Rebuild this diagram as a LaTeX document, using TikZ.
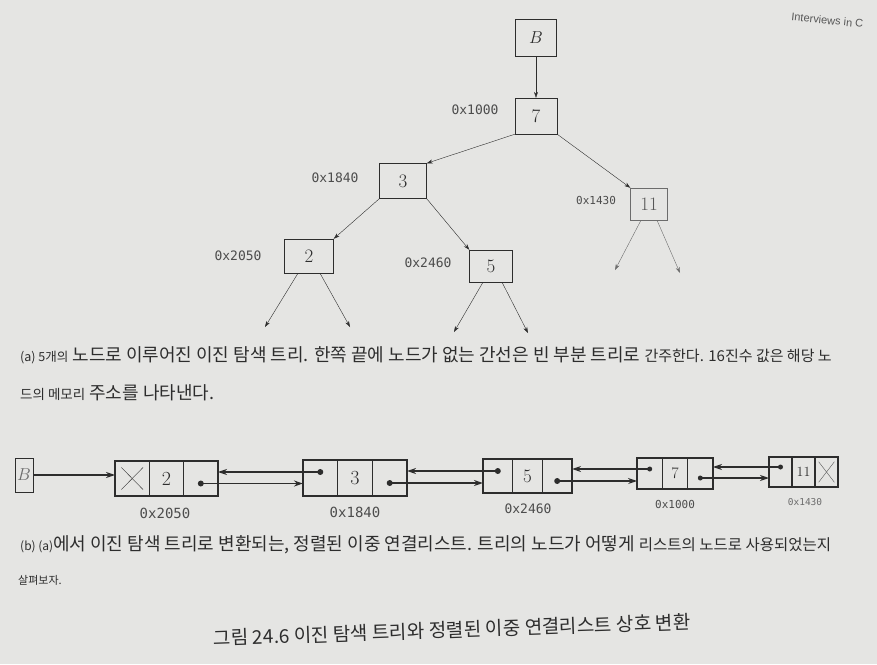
\documentclass[tikz,border=0pt]{standalone}
\usepackage{fontspec}
\setmonofont{DejaVu Sans Mono}
\newfontfamily\krfont{Noto Sans CJK KR}
\newfontfamily\hdfont{Liberation Sans}
\usetikzlibrary{arrows.meta}
\definecolor{paper}{RGB}{229,229,227}
\definecolor{ink}{RGB}{45,45,45}
\tikzset{
    tnode/.style={draw=ink, thin, minimum width=44pt, minimum height=35pt, inner sep=0pt, font=\fontsize{19}{20}\selectfont, text=ink},
    taddr/.style={font=\fontsize{13}{14}\ttfamily, text=ink!85},
    tedge/.style={draw=ink, thin, -{Stealth[length=6pt,width=4pt]}},
    lcell/.style={draw=ink, line width=1.4pt, inner sep=0pt, outer sep=0pt, text=ink},
    ldot/.style={circle, fill=ink, inner sep=0pt, minimum size=6pt},
    ledge/.style={draw=ink, line width=1.6pt, -{Stealth[length=9pt,width=6pt]}},
    captxt/.style={anchor=west, inner sep=0pt, text=ink, font=\krfont\fontsize{18}{19}\selectfont}
}

\begin{document}
\begin{tikzpicture}[x=1pt, y=-1pt]
    \fill[paper] (0,0) rectangle (877,664);
    \clip (0,0) rectangle (877,664);
    \node[anchor=west, rotate=-6, text=ink!80, font=\hdfont\fontsize{11}{12}\selectfont] (head) at (788,16) {Interviews in C};

    % (a) tree
    \node[tnode, minimum width=41pt, minimum height=37pt] (tB) at (536,38) {$B$};
    \node[tnode, minimum width=42pt, minimum height=36pt] (t7) at (536,116) {7};
    \node[tnode, minimum width=47pt] (t3) at (403,181) {3};
    \node[tnode, minimum width=37pt, minimum height=32pt, draw=ink!70, text=ink!80] (t11) at (649,204) {11};
    \node[tnode, minimum width=49pt, minimum height=34pt] (t2) at (309,256) {2};
    \node[tnode, minimum width=43pt, minimum height=32pt] (t5) at (491,266) {5};

    \node[taddr] (a7) at (475,110) {0x1000};
    \node[taddr] (a3) at (335,178) {0x1840};
    \node[taddr, font=\fontsize{11}{12}\ttfamily] (a11) at (596,200) {0x1430};
    \node[taddr] (a2) at (238,256) {0x2050};
    \node[taddr] (a5) at (428,263) {0x2460};

    \draw[tedge] (tB.south) -- (t7.north);
    \draw[tedge] (t7.south west) -- (t3.north east);
    \draw[tedge] (t7.south east) -- (t11.north west);
    \draw[tedge] (t3.south west) -- (t2.north east);
    \draw[tedge] (t3.south east) -- (t5.north west);

    \coordinate (t2l) at (265,327);
    \coordinate (t2r) at (350,327);
    \coordinate (t5l) at (454,332);
    \coordinate (t5r) at (528,333);
    \coordinate (t11l) at (615,270);
    \coordinate (t11r) at (680,273);
    \draw[tedge] ([xshift=-11pt]t2.south) -- (t2l);
    \draw[tedge] ([xshift=11pt]t2.south) -- (t2r);
    \draw[tedge] ([xshift=-8pt]t5.south) -- (t5l);
    \draw[tedge] ([xshift=11pt]t5.south) -- (t5r);
    \draw[tedge, draw=ink!70] ([xshift=-8pt]t11.south) -- (t11l);
    \draw[tedge, draw=ink!70] ([xshift=8pt]t11.south) -- (t11r);

    \node[captxt] (capa) at (20,355) {{\fontsize{12.5}{13}\selectfont(a) 5개의} 노드로 이루어진 이진 탐색 트리. 한쪽 끝에 노드가 없는 간선은 빈 부분 트리로 {\fontsize{15}{16}\selectfont 간주한다. 16진수 값은 해당 노}};
    \node[captxt] (capa2) at (20,393) {{\fontsize{13.5}{14}\selectfont 드의 메모리} 주소를 나타낸다.};

    % (b) list
    \node[lcell, line width=0.8pt, minimum width=18pt, minimum height=34pt, text=ink!70, font=\fontsize{16}{17}\selectfont] (lB) at (24,475) {$B$};
    \foreach \n/\cx/\cy/\w/\h/\v/\fs in {L2/166.5/478.5/34.3/35/2/20, L3/355/478/34.7/36/3/20, L5/527.5/476/29.7/34/5/19, L7/675/473.5/25.3/31/7/16, L11/803.5/472/23/30/11/14}
    {
        \node[lcell, minimum width=\w, minimum height=\h, font=\fontsize{\fs}{\fs}\selectfont] (\n b) at (\cx,\cy) {\v};
        \node[lcell, minimum width=\w, minimum height=\h, anchor=east] (\n a) at (\n b.west) {};
        \node[lcell, minimum width=\w, minimum height=\h, anchor=west] (\n c) at (\n b.east) {};
    }
    \draw[ink, thin, shorten >=9pt, shorten <=9pt] (L2a.north west) -- (L2a.south east);
    \draw[ink, thin, shorten >=9pt, shorten <=9pt] (L2a.south west) -- (L2a.north east);
    \draw[ink!80, thin, shorten >=6pt, shorten <=6pt] (L11c.north west) -- (L11c.south east);
    \draw[ink!80, thin, shorten >=6pt, shorten <=6pt] (L11c.south west) -- (L11c.north east);

    \node[ldot] (d2c) at ([yshift=-5pt]L2c.center) {};
    \node[ldot] (d3a) at ([yshift=6pt]L3a.center) {};
    \node[ldot] (d3c) at ([yshift=-5pt]L3c.center) {};
    \node[ldot] (d5a) at ([yshift=5pt]L5a.center) {};
    \node[ldot] (d5c) at ([yshift=-5pt]L5c.center) {};
    \node[ldot, minimum size=5pt] (d7a) at ([yshift=4.5pt]L7a.center) {};
    \node[ldot, minimum size=5pt] (d7c) at ([yshift=-4.5pt]L7c.center) {};
    \node[ldot, minimum size=5pt] (d11a) at ([yshift=5pt]L11a.center) {};

    \draw[ledge] (lB.east) -- (lB.east -| L2a.west);
    \draw[ledge] (d3a.center) -- (d3a -| L2c.east);
    \draw[ledge] (d2c.center) -- (d2c -| L3a.west);
    \draw[ledge] (d5a.center) -- (d5a -| L3c.east);
    \draw[ledge] (d3c.center) -- (d3c -| L5a.west);
    \draw[ledge, line width=1.3pt] (d7a.center) -- (d7a -| L5c.east);
    \draw[ledge, line width=1.3pt] (d5c.center) -- (d5c -| L7a.west);
    \draw[ledge, line width=1.1pt] (d11a.center) -- (d11a -| L7c.east);
    \draw[ledge, line width=1.1pt] (d7c.center) -- (d7c -| L11a.west);

    \node[taddr, font=\fontsize{14}{15}\ttfamily] (b2) at (165,513) {0x2050};
    \node[taddr, font=\fontsize{14}{15}\ttfamily] (b3) at (355,512) {0x1840};
    \node[taddr] (b5) at (528,509) {0x2460};
    \node[taddr, font=\fontsize{11}{12}\ttfamily] (b7) at (675,504) {0x1000};
    \node[taddr, font=\fontsize{9.5}{10}\ttfamily, text=ink!70] (b11) at (805,502) {0x1430};

    \node[captxt] (capb) at (20,545) {{\fontsize{12}{13}\selectfont(b) (a)}에서 이진 탐색 트리로 변환되는, 정렬된 이중 연결리스트. 트리의 노드가 어떻게 {\fontsize{15.5}{16}\selectfont 리스트의 노드로 사용되었는지}};
    \node[captxt, font=\krfont\fontsize{11}{12}\selectfont] (capb2) at (18,580) {살펴보자.};

    \node[inner sep=0pt, text=ink, font=\krfont\fontsize{19}{20}\selectfont, rotate=2] (fig) at (452,630) {그림 24.6 이진 탐색 트리와 정렬된 이중 연결리스트 상호 변환};
\end{tikzpicture}
\end{document}
